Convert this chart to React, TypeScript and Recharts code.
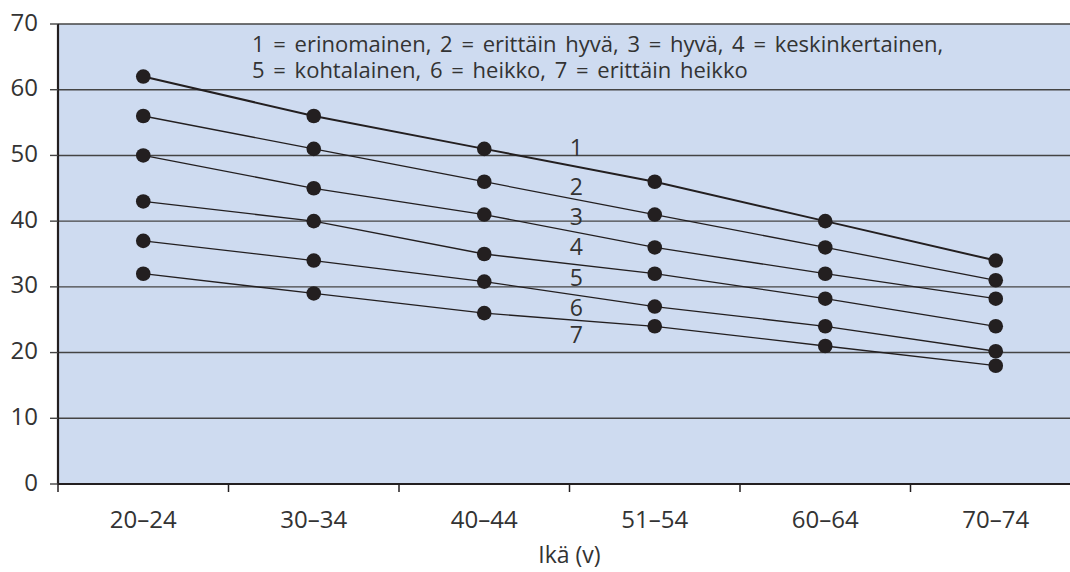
import React from 'react';
import { LineChart, Line, XAxis, YAxis, CartesianGrid, ReferenceDot } from 'recharts';

const categories = ['20–24', '30–34', '40–44', '51–54', '60–64', '70–74'];
const line1 = [62, 56, 51, 46, 40, 34];
const line2 = [56, 51, 46, 41, 36, 31];
const line3 = [50, 45, 41, 36, 32, 28.2];
const line4 = [43, 40, 35, 32, 28.2, 24];
const line5 = [37, 34, 30.8, 27, 24, 20.2];
const line6 = [32, 29, 26, 24, 21, 18];
const yTicks = [0, 10, 20, 30, 40, 50, 60, 70];
const classLabels = ['1', '2', '3', '4', '5', '6', '7'];
const classLabelY = [51.1, 45.2, 40.6, 36.1, 31.4, 26.8, 22.7];
const classLabelX = 3.04;
const legendLines = [
  '1 = erinomainen, 2 = erittäin hyvä, 3 = hyvä, 4 = keskinkertainen,',
  '5 = kohtalainen, 6 = heikko, 7 = erittäin heikko',
];
const xTitle = 'Ikä (v)';

const seriesKeys = ['l1', 'l2', 'l3', 'l4', 'l5', 'l6'];
const seriesArrays = [line1, line2, line3, line4, line5, line6];
const data = categories.map((c, i) => {
  const row: any = { x: i + 0.5, cat: c };
  seriesKeys.forEach((k, j) => (row[k] = seriesArrays[j][i]));
  return row;
});
const xTicks: number[] = [];
for (let i = 0; i <= categories.length * 2; i++) xTicks.push(i / 2);

const TEXT = '#333333';
const INK = '#231f20';

const XTick = (props: any) => {
  const { x, y, payload } = props;
  const v = payload.value;
  if (Number.isInteger(v)) {
    return <line x1={x} x2={x} y1={y} y2={y + 8} stroke={INK} strokeWidth={1.5} />;
  }
  return (
    <text x={x} y={y + 44} textAnchor="middle" fill={TEXT} fontSize={24}>
      {categories[Math.floor(v)]}
    </text>
  );
};

export default function App() {
  return (
    <div
      style={{
        position: 'absolute',
        left: 0,
        top: 0,
        width: 1070,
        height: 572,
        overflow: 'hidden',
        background: '#fff',
        fontFamily: '"Open Sans", "Noto Sans", sans-serif',
      }}
    >
      <LineChart
        width={1100}
        height={572}
        data={data}
        margin={{ top: 24, right: 19, bottom: 0, left: 0 }}
      >
        <CartesianGrid vertical={false} fill="#cedbf0" stroke="#444" strokeWidth={1.4} />
        <XAxis
          dataKey="x"
          type="number"
          domain={[0, 6]}
          ticks={xTicks}
          interval={0}
          height={88}
          tickSize={0}
          tickMargin={0}
          tickLine={false}
          axisLine={{ stroke: INK, strokeWidth: 2.2 }}
          tick={<XTick />}
          label={{ value: xTitle, position: 'insideBottom', offset: 9, fill: TEXT, fontSize: 23 }}
        />
        <YAxis
          type="number"
          domain={[0, 70]}
          ticks={yTicks}
          width={58}
          tickSize={8}
          tickMargin={12}
          tickLine={{ stroke: '#444', strokeWidth: 1.4 }}
          axisLine={{ stroke: INK, strokeWidth: 2.2 }}
          tick={{ fill: TEXT, fontSize: 24, dy: -2 }}
        />
        {seriesKeys.map((k, j) => (
          <Line
            key={k}
            type="linear"
            dataKey={k}
            stroke={INK}
            strokeWidth={j === 0 ? 2 : 1.3}
            dot={{ r: 7.3, fill: INK, stroke: 'none' }}
            activeDot={false}
            isAnimationActive={false}
          />
        ))}
        {classLabels.map((t, i) => (
          <ReferenceDot
            key={t}
            x={classLabelX}
            y={classLabelY[i]}
            r={1}
            fill="none"
            stroke="none"
            label={{ value: t, position: 'center', fill: TEXT, fontSize: 23 }}
          />
        ))}
      </LineChart>
      <svg
        width={1070}
        height={572}
        style={{ position: 'absolute', left: 0, top: 0, pointerEvents: 'none' }}
      >
        {legendLines.map((t, i) => (
          <text
            key={i}
            x={252}
            y={51.5 + i * 26}
            fill={TEXT}
            fontSize={22}
            style={{ wordSpacing: '3px' }}
          >
            {t}
          </text>
        ))}
      </svg>
    </div>
  );
}
